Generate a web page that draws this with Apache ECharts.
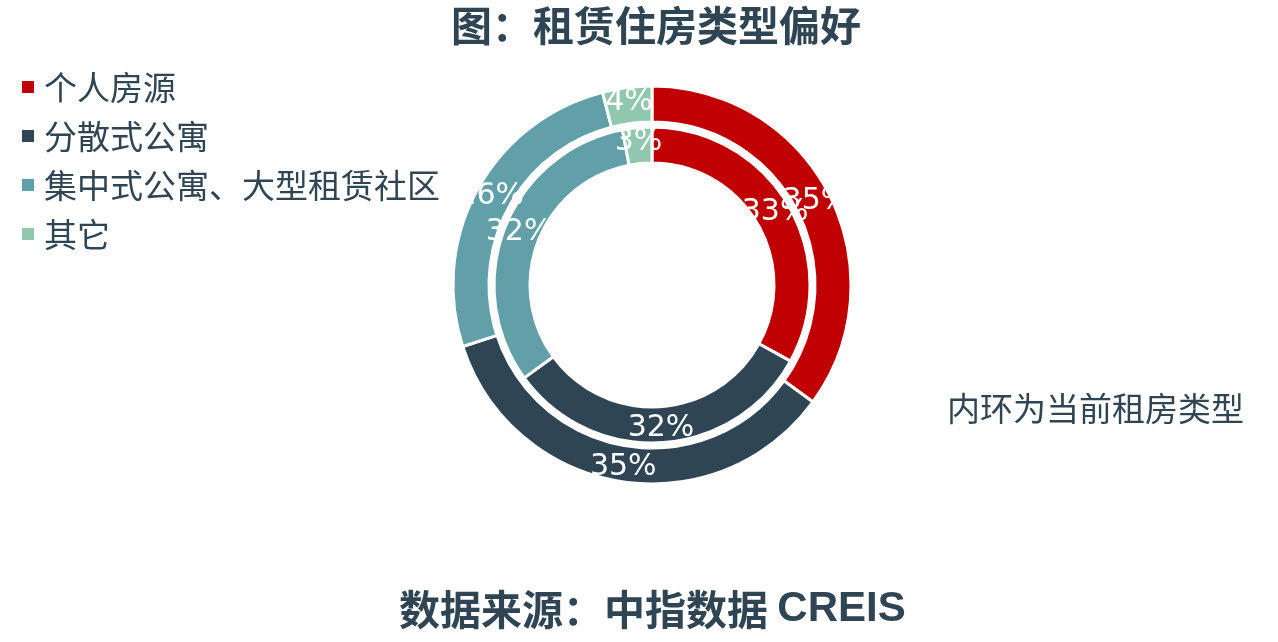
<!DOCTYPE html>
<html>
<head>
    <meta charset="utf-8" />
    <title>租赁住房类型偏好</title>
    <script src="https://cdn.jsdelivr.net/npm/echarts@6/dist/echarts.min.js"></script>
    <style>
        html, body { margin: 0; padding: 0; background: #fff; }
        #container { width: 1278px; height: 642px; }
    </style>
</head>
<body>
    <div id="container"></div>
    <script>
    // 类型
    var categories = ['个人房源', '分散式公寓', '集中式公寓、大型租赁社区', '其它'];
    // 外环：偏好（%）
    var outerValues = [35, 35, 26, 4];
    // 内环：当前租房类型（%）
    var innerValues = [33, 32, 32, 3];
    var colors = ['#c00000', '#2f4554', '#61a0a8', '#91c7ae'];

    var textColor = '#2f4554';
    var cjk = '"Noto Sans CJK SC", "Noto Sans", sans-serif';

    function toData(vals) {
        var arr = [];
        for (var i = 0; i < categories.length; i++) {
            arr.push({ name: categories[i], value: vals[i] });
        }
        return arr;
    }

    var labelCfg = {
        show: true,
        position: 'inside',
        formatter: '{c}%',
        color: '#fff',
        fontSize: 30,
        fontFamily: '"DejaVu Sans", sans-serif'
    };

    var myChart = echarts.init(document.getElementById('container'));
    var option = {
        backgroundColor: '#fff',
        color: colors,
        animation: false,
        title: [
            {
                text: '图：租赁住房类型偏好',
                left: 446, top: 0,
                textStyle: { color: textColor, fontSize: 41, fontWeight: 'bold', fontFamily: cjk }
            },
            {
                text: '{a|数据来源：中指数据 }{b|CREIS}',
                left: 394, top: 583,
                textStyle: {
                    rich: {
                        a: { color: textColor, fontSize: 41, fontWeight: 'bold', fontFamily: cjk },
                        b: { color: textColor, fontSize: 42, fontWeight: 'bold', fontFamily: '"Liberation Sans", Arial, sans-serif' }
                    }
                }
            },
            {
                text: '内环为当前租房类型',
                left: 942, top: 387,
                textStyle: { color: textColor, fontSize: 33, fontWeight: 'normal', fontFamily: cjk }
            }
        ],
        legend: {
            orient: 'vertical',
            left: 20, top: 67,
            padding: 0,
            icon: 'rect',
            itemWidth: 14, itemHeight: 14,
            itemGap: 9,
            data: categories,
            textStyle: { color: textColor, fontSize: 33, lineHeight: 34, fontFamily: cjk, padding: [6, 0, 0, 4] }
        },
        series: [
            {
                name: '偏好',
                type: 'pie',
                center: [652, 285],
                radius: [163, 199],
                startAngle: 90,
                itemStyle: { borderColor: '#fff', borderWidth: 3 },
                label: labelCfg,
                labelLine: { show: false },
                labelLayout: { hideOverlap: false },
                emphasis: { disabled: true },
                data: toData(outerValues)
            },
            {
                name: '当前',
                type: 'pie',
                center: [652, 285],
                radius: [122, 158],
                startAngle: 90,
                itemStyle: { borderColor: '#fff', borderWidth: 3 },
                label: labelCfg,
                labelLine: { show: false },
                labelLayout: { hideOverlap: false },
                emphasis: { disabled: true },
                data: toData(innerValues)
            }
        ]
    };
    myChart.setOption(option);
    </script>
</body>
</html>
